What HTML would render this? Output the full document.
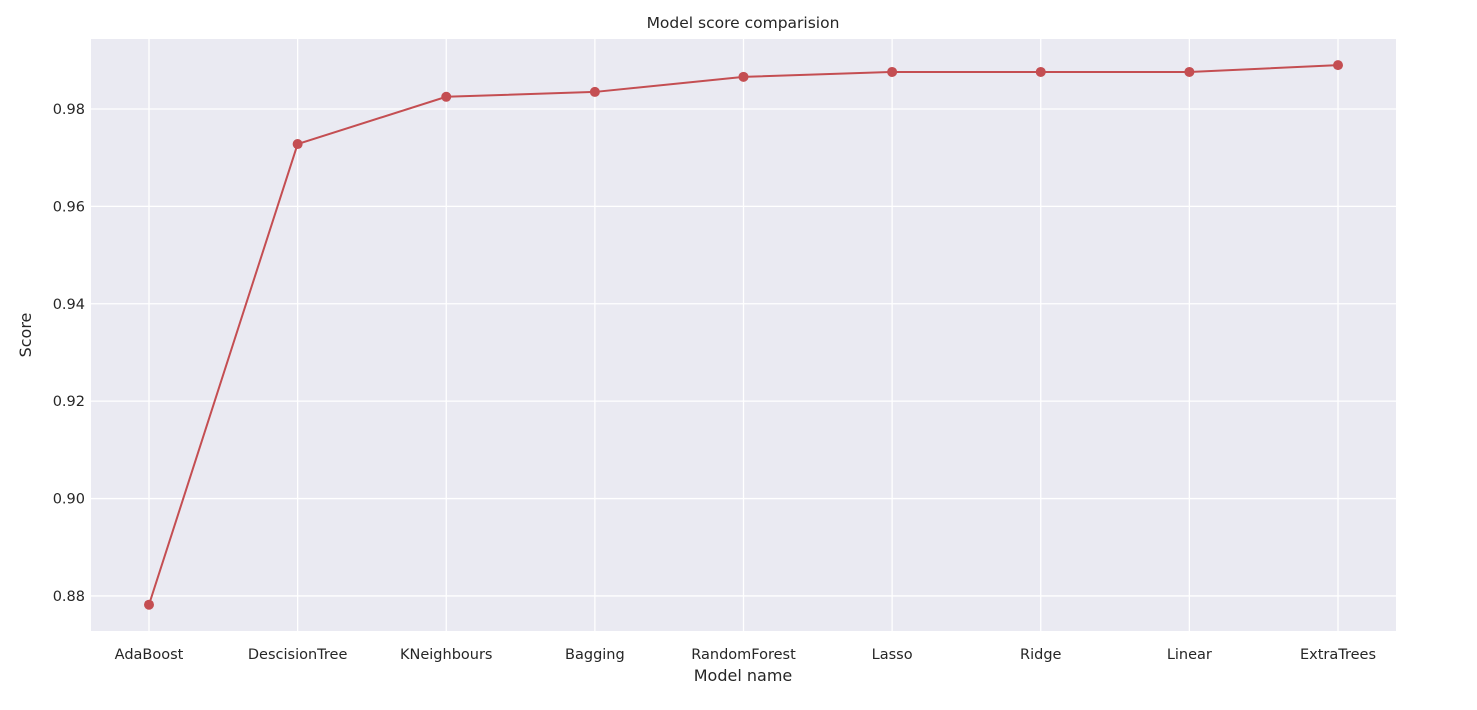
<!DOCTYPE html>
<html><head><meta charset="utf-8"><style>
body{margin:0;background:#fff;font-family:"DejaVu Sans","Liberation Sans",sans-serif;}
svg text{font-family:"DejaVu Sans","Liberation Sans",sans-serif;fill:#262626;}
</style></head><body>
<svg id="chart" width="1477" height="706"></svg>
<script>
const categories=["AdaBoost","DescisionTree","KNeighbours","Bagging","RandomForest","Lasso","Ridge","Linear","ExtraTrees"];
const scores=[0.8782,0.9728,0.9825,0.9835,0.9866,0.9876,0.9876,0.9876,0.989];
const yTicks=[0.88,0.90,0.92,0.94,0.96,0.98];
const yTickLabels=["0.88","0.90","0.92","0.94","0.96","0.98"];
const L=91,R=1396,T=39,B=631,yMin=0.8728,yMax=0.99437;
const svg=document.getElementById('chart');const NS="http://www.w3.org/2000/svg";
function x(i){return 149+i*(1338-149)/(categories.length-1);}
function y(v){return B-(v-yMin)/(yMax-yMin)*(B-T);}
function el(t,a,p){const e=document.createElementNS(NS,t);for(const k in a)e.setAttribute(k,a[k]);(p||svg).appendChild(e);return e;}
const bg=el('rect',{x:L,y:T,width:R-L,height:B-T,fill:'#EAEAF2'});


yTicks.forEach((v,i)=>{
 const g=el('line',{x1:L,x2:R,y1:y(v),y2:y(v),stroke:'#fff','stroke-width':1.3});
 
 
 const t=el('text',{x:L-6,y:y(v)+5,'text-anchor':'end','font-size':14.5});t.textContent=yTickLabels[i];
 
 
});
categories.forEach((c,i)=>{
 const g=el('line',{x1:x(i),x2:x(i),y1:T,y2:B,stroke:'#fff','stroke-width':1.3});
 
 
 const t=el('text',{x:x(i),y:659,'text-anchor':'middle','font-size':14.5});t.textContent=c;
 
 
});
const line=el('polyline',{points:scores.map((v,i)=>x(i)+','+y(v)).join(' '),fill:'none',stroke:'#C44E52','stroke-width':2});


scores.forEach((v,i)=>{
 const p=el('circle',{cx:x(i),cy:y(v),r:5,fill:'#C44E52'});
 
 
});
const tt=el('text',{x:743,y:28,'text-anchor':'middle','font-size':15.5});tt.textContent='Model score comparision';


const xt=el('text',{x:743,y:681,'text-anchor':'middle','font-size':16});xt.textContent='Model name';


const yt=el('text',{x:31,y:335,'text-anchor':'middle','font-size':16,transform:'rotate(-90 31 335)'});yt.textContent='Score';


</script>
</body></html>
